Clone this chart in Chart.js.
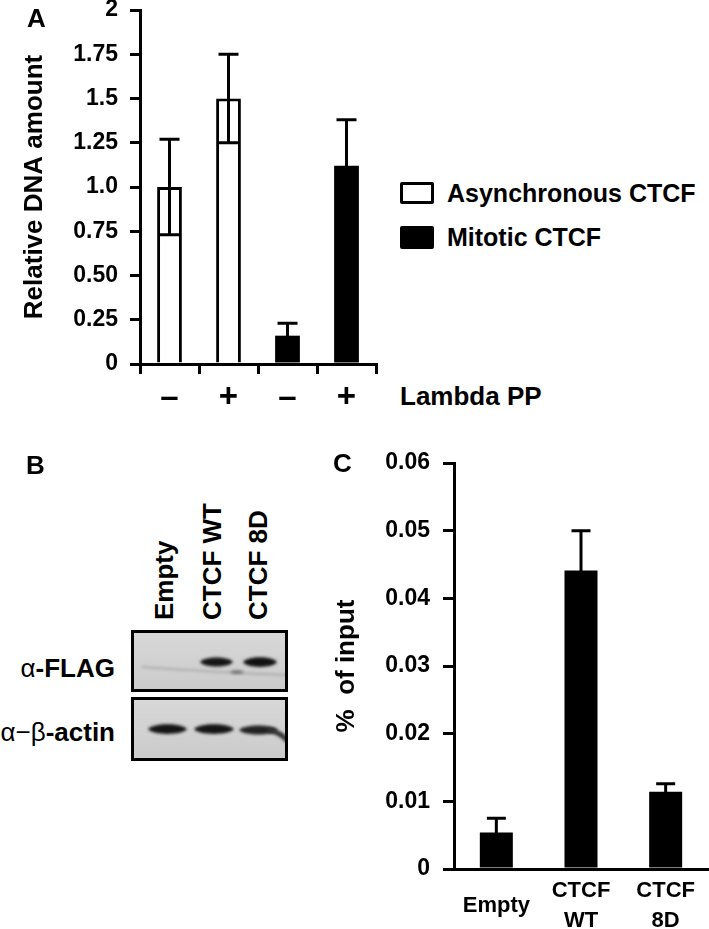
<!DOCTYPE html>
<html>
<head>
<meta charset="utf-8">
<script src="https://cdn.jsdelivr.net/npm/chart.js@4.4.1/dist/chart.umd.min.js"></script>
<style>
  html, body { margin: 0; padding: 0; background: #fff; }
  #page { position: relative; width: 709px; height: 929px; overflow: hidden;
          font-family: 'Liberation Sans', Arial, sans-serif; font-weight: bold; color: #000; }
  canvas { position: absolute; }
  .txt { position: absolute; line-height: 1; white-space: nowrap; }
  .lane { position: absolute; line-height: 1; white-space: nowrap; font-size: 26px;
          transform-origin: 0 0; transform: rotate(-90deg); }
  .greek { font-weight: normal; }
  .swatch { position: absolute; box-sizing: border-box; border-radius: 2px; }
</style>
</head>
<body>
<div id="page">
  <canvas id="chartA" width="380" height="420" style="left:0;top:0"></canvas>
  <canvas id="blot" width="180" height="150" style="left:120px;top:620px"></canvas>
  <canvas id="chartC" width="379" height="499" style="left:330px;top:430px"></canvas>

  <div class="txt" style="left:27px;top:5px;font-size:26px">A</div>
  <div class="txt" style="left:26px;top:452px;font-size:26px">B</div>
  <div class="txt" style="left:333px;top:450px;font-size:26px">C</div>

  <div class="swatch" style="left:400px;top:182px;width:34px;height:22px;border:3px solid #000;background:#fff"></div>
  <div class="txt" style="left:447px;top:181px;font-size:25px">Asynchronous CTCF</div>
  <div class="swatch" style="left:400px;top:226px;width:34px;height:23px;background:#000"></div>
  <div class="txt" style="left:447px;top:225px;font-size:25px">Mitotic CTCF</div>
  <div class="txt" style="left:400px;top:383px;font-size:26px">Lambda PP</div>

  <div id="lanes"></div>
  <div class="txt" style="right:594px;top:655px;font-size:26px"><span class="greek">α</span>-FLAG</div>
  <div class="txt" style="right:594px;top:719px;font-size:26px"><span class="greek">α−β</span>-actin</div>
</div>
<script>
// Panel A: relative DNA amount
const lambdaLabels = ['–', '+', '–', '+'];
const asyncValues = [1.0, 1.5, null, null];
const asyncErrors = [0.27, 0.25, null, null];
const mitoticValues = [null, null, 0.16, 1.12];
const mitoticErrors = [null, null, 0.07, 0.26];
const yTicksA = ['0', '0.25', '0.50', '0.75', '1.0', '1.25', '1.5', '1.75', '2'];

// Panel C: % of input
const inputLabels = ['Empty', ['CTCF', 'WT'], ['CTCF', '8D']];
const inputValues = [0.0054, 0.0441, 0.0114];
const inputErrors = [0.0021, 0.0059, 0.0012];
const yTicksC = ['0', '0.01', '0.02', '0.03', '0.04', '0.05', '0.06'];

// Panel B lanes
const blotLanes = ['Empty', 'CTCF WT', 'CTCF 8D'];

Chart.defaults.font.family = "'Liberation Sans', Arial, sans-serif";
Chart.defaults.font.weight = 'bold';
Chart.defaults.color = '#000';

const errorBars = {
  id: 'errorBars',
  afterDatasetsDraw(chart, args, opts) {
    const ctx = chart.ctx;
    const y = chart.scales.y;
    chart.data.datasets.forEach((ds, di) => {
      const meta = chart.getDatasetMeta(di);
      meta.data.forEach((bar, i) => {
        const v = ds.data[i], e = ds.errors[i];
        if (v == null || e == null) return;
        const top = y.getPixelForValue(v + e);
        const bot = y.getPixelForValue(Math.max(v - e, 0));
        const h = opts.cap / 2;
        ctx.save();
        ctx.strokeStyle = '#000';
        ctx.lineWidth = opts.width;
        ctx.beginPath();
        ctx.moveTo(bar.x, top); ctx.lineTo(bar.x, bot);
        ctx.moveTo(bar.x - h, top); ctx.lineTo(bar.x + h, top);
        ctx.moveTo(bar.x - h, bot); ctx.lineTo(bar.x + h, bot);
        ctx.stroke();
        ctx.restore();
      });
    });
  }
};

new Chart(document.getElementById('chartA'), {
  type: 'bar',
  data: {
    labels: lambdaLabels,
    datasets: [
      { label: 'Asynchronous CTCF', data: asyncValues, errors: asyncErrors,
        backgroundColor: '#fff', borderColor: '#000', borderWidth: 3 },
      { label: 'Mitotic CTCF', data: mitoticValues, errors: mitoticErrors,
        backgroundColor: '#000', borderColor: '#000', borderWidth: 0 }
    ]
  },
  options: {
    responsive: false,
    animation: false,
    layout: { padding: { top: 10, right: 4, left: 0, bottom: 0 } },
    datasets: { bar: { grouped: false, barPercentage: 0.42, categoryPercentage: 1 } },
    plugins: { legend: { display: false }, tooltip: { enabled: false }, errorBars: { width: 3, cap: 20 } },
    scales: {
      x: {
        grid: { offset: true, drawOnChartArea: false, tickLength: 10, lineWidth: 3, color: '#000' },
        border: { width: 3, color: '#000' },
        ticks: { font: { size: 33 }, padding: 4 },
        afterFit(s) { s.height = 56; s.paddingLeft = 0; s.paddingRight = 0; }
      },
      y: {
        min: 0, max: 2,
        ticks: { stepSize: 0.25, callback: (v, i) => yTicksA[i], font: { size: 23 }, padding: 12 },
        grid: { drawOnChartArea: false, tickLength: 10, lineWidth: 3, color: '#000' },
        border: { width: 3, color: '#000' },
        title: { display: true, text: 'Relative DNA amount', font: { size: 26 }, padding: { top: 19, bottom: 0 } },
        afterFit(s) { s.width = 140; s.paddingTop = 0; s.paddingBottom = 0; }
      }
    }
  },
  plugins: [errorBars]
});

new Chart(document.getElementById('chartC'), {
  type: 'bar',
  data: {
    labels: inputLabels,
    datasets: [
      { label: '% of input', data: inputValues, errors: inputErrors,
        backgroundColor: '#000', borderWidth: 0 }
    ]
  },
  options: {
    responsive: false,
    animation: false,
    layout: { padding: { top: 33, right: 1, left: 0, bottom: 0 } },
    datasets: { bar: { barPercentage: 0.39, categoryPercentage: 1 } },
    plugins: { legend: { display: false }, tooltip: { enabled: false }, errorBars: { width: 3, cap: 19 } },
    scales: {
      x: {
        grid: { display: false },
        border: { width: 3, color: '#000' },
        ticks: { font: { size: 22, lineHeight: 1.36 }, padding: 14, crossAlign: 'center', autoSkip: false, maxRotation: 0 },
        afterFit(s) { s.height = 60; s.paddingLeft = 0; s.paddingRight = 0; }
      },
      y: {
        min: 0, max: 0.06,
        ticks: { stepSize: 0.01, callback: (v, i) => yTicksC[i], font: { size: 23 }, padding: 13 },
        grid: { drawOnChartArea: false, tickLength: 11, lineWidth: 3, color: '#000' },
        border: { width: 3, color: '#000' },
        title: { display: true, text: '%  of input', font: { size: 26 }, padding: { top: 1, bottom: 0 } },
        afterFit(s) { s.width = 124; s.paddingTop = 0; s.paddingBottom = 0; }
      }
    }
  },
  plugins: [errorBars]
});

// Panel B: western blot picture (lane labels are text, the blot is painted)
const laneX = [164, 212, 258];
document.getElementById('lanes').innerHTML = blotLanes.map((t, i) =>
  `<div class="lane" style="left:${laneX[i] - 13}px;top:620px">${t}</div>`).join('');

function band(g, x1, x2, y, h, color) {
  const w = x2 - x1;
  g.fillStyle = color;
  g.beginPath();
  g.moveTo(x1, y);
  g.bezierCurveTo(x1 + w * 0.12, y - h, x2 - w * 0.12, y - h, x2, y);
  g.bezierCurveTo(x2 - w * 0.12, y + h, x1 + w * 0.12, y + h, x1, y);
  g.fill();
}

(function drawBlot() {
  const g = document.getElementById('blot').getContext('2d');
  const boxes = [{ x: 11, y: 10, w: 157, h: 62 }, { x: 11, y: 77, w: 157, h: 64 }];
  boxes.forEach(b => {
    const grad = g.createLinearGradient(0, b.y, 0, b.y + b.h);
    grad.addColorStop(0, '#d8d8d8');
    grad.addColorStop(1, '#cbcbcb');
    g.fillStyle = grad;
    g.fillRect(b.x, b.y, b.w, b.h);
  });
  g.save();
  g.beginPath();
  boxes.forEach(b => g.rect(b.x, b.y, b.w, b.h));
  g.clip();
  g.filter = 'blur(1.5px)';
  // faint background line in FLAG blot
  g.strokeStyle = '#a0a0a0';
  g.lineWidth = 1.5;
  g.beginPath(); g.moveTo(22, 47); g.quadraticCurveTo(90, 52, 168, 55); g.stroke();
  band(g, 110, 124, 52, 2.5, '#777');
  // FLAG bands
  band(g, 80, 113, 42, 6, '#151515');
  band(g, 123, 157, 42, 6.5, '#111');
  // actin bands
  band(g, 28, 67, 109, 6.5, '#151515');
  band(g, 74, 114, 109, 6.5, '#151515');
  band(g, 119, 158, 110, 6, '#222');
  g.strokeStyle = '#333';
  g.lineWidth = 5;
  g.beginPath(); g.moveTo(148, 110); g.quadraticCurveTo(160, 112, 168, 121); g.stroke();
  g.restore();
  g.strokeStyle = '#000';
  g.lineWidth = 3;
  boxes.forEach(b => g.strokeRect(b.x + 1.5, b.y + 1.5, b.w - 3, b.h - 3));
})();
</script>
</body>
</html>
